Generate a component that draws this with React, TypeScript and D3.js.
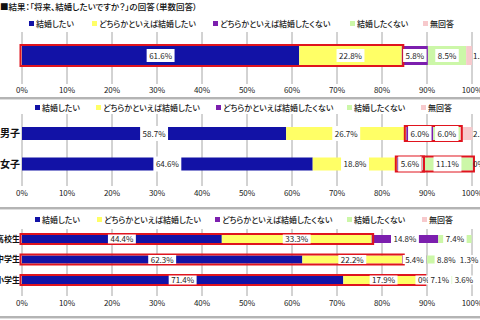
import React, { useEffect, useRef } from 'react';
import * as d3 from 'd3';

const titleText = '■結果：「将来、結婚したいですか？」の回答（単数回答）';
const seriesNames = [
    '結婚したい',
    'どちらかといえば結婚したい',
    'どちらかといえば結婚したくない',
    '結婚したくない',
    '無回答',
];
const seriesColors = ['#1212a6', '#ffff66', '#7c1fae', '#ccf7a8', '#f7c9cc'];
const tickValues = [0, 10, 20, 30, 40, 50, 60, 70, 80, 90, 100];

// panel 1: all
const totalCategories = [''];
const totalValues = [61.6, 22.8, 5.8, 8.5, 1.3];

// panel 2: by gender
const genderCategories = ['男子', '女子'];
const maleValues = [58.7, 26.7, 6.0, 6.0, 2.7];
const femaleValues = [64.6, 18.8, 5.6, 11.1, 0.0];

// panel 3: by school
const schoolCategories = ['高校生', '中学生', '小学生'];
const highSchoolValues = [44.4, 33.3, 14.8, 7.4, null];
const juniorHighValues = [62.3, 22.2, 5.4, 8.8, 1.3];
const elementaryValues = [71.4, 17.9, 0, 7.1, 3.6];

// red boxes: [first segment, last segment] per row
const totalHighlights = [[[0, 1]]];
const genderHighlights = [[[2, 3]], [[2, 2], [3, 3]]];
const schoolHighlights = [[[0, 1]], [[0, 1]], [[0, 1]]];

const jpFont = "'Noto Sans CJK JP', 'Noto Sans', sans-serif";

type Row = { cat: string; values: (number | null)[] };

const fmt = (v: number) => (v === 0 ? '0%' : `${v.toFixed(1)}%`);

export default function App() {
    const ref = useRef<SVGSVGElement | null>(null);

    useEffect(() => {
        const width = 480;
        const height = 320;
        const svg = d3.select(ref.current).attr('width', width).attr('height', height);
        svg.selectAll('*').remove();

        svg.append('rect').attr('width', width).attr('height', height).attr('fill', '#fff');

        const x = d3.scaleLinear().domain([0, 100]).range([22, 472]);

        svg.append('text')
            .attr('x', 0)
            .attr('y', 10)
            .style('font-family', jpFont)
            .style('font-size', '8.5px')
            .style('font-weight', 500)
            .style('font-feature-settings', "'palt'")
            .attr('fill', '#111')
            .text(titleText);

        const panels = [
            {
                cats: totalCategories,
                rows: [totalValues],
                highlights: totalHighlights,
                legendY: 24,
                legendX: [29, 92, 213, 350, 423],
                gridTop: 32,
                gridBottom: 84,
                tickY: 93,
                center: 55.5,
                step: 31,
                barH: 19,
                boxH: 13,
                catSize: 10,
                lastOutside: true,
                sepY: 97,
            },
            {
                cats: genderCategories,
                rows: [maleValues, femaleValues],
                highlights: genderHighlights,
                legendY: 108,
                legendX: [35, 96, 216, 347, 421],
                gridTop: 114,
                gridBottom: 186,
                tickY: 196,
                center: 133.5,
                step: 30.5,
                barH: 13,
                boxH: 15,
                catSize: 10,
                lastOutside: true,
                sepY: 207,
            },
            {
                cats: schoolCategories,
                rows: [highSchoolValues, juniorHighValues, elementaryValues],
                highlights: schoolHighlights,
                legendY: 220,
                legendX: [35, 97, 215, 347, 422],
                gridTop: 229,
                gridBottom: 296,
                tickY: 306,
                center: 239,
                step: 20.5,
                barH: 8,
                boxH: 9,
                catSize: 8,
                lastOutside: false,
                sepY: 316,
            },
        ];

        panels.forEach((p) => {
            const g = svg.append('g');
            const pad = 1 - p.barH / p.step;
            const y = d3
                .scaleBand()
                .domain(p.cats)
                .range([p.center - p.step / 2, p.center - p.step / 2 + p.cats.length * p.step])
                .paddingInner(pad)
                .paddingOuter(pad / 2);

            // legend
            seriesNames.forEach((name, i) => {
                g.append('rect')
                    .attr('x', p.legendX[i])
                    .attr('y', p.legendY - 3)
                    .attr('width', 5)
                    .attr('height', 5)
                    .attr('fill', seriesColors[i]);
                g.append('text')
                    .attr('x', p.legendX[i] + 7)
                    .attr('y', p.legendY + 2.5)
                    .style('font-family', jpFont)
                    .style('font-size', '8px')
                    .style('font-weight', 500)
                    .style('font-feature-settings', "'palt'")
                    .attr('fill', '#222')
                    .text(name);
            });

            // grid
            g.selectAll('.grid')
                .data(tickValues)
                .join('line')
                .attr('x1', (d) => x(d))
                .attr('x2', (d) => x(d))
                .attr('y1', p.gridTop)
                .attr('y2', p.gridBottom)
                .attr('stroke', '#a6a6a6')
                .attr('stroke-width', 1);

            g.selectAll('.tick')
                .data(tickValues)
                .join('text')
                .attr('x', (d) => x(d))
                .attr('y', p.tickY)
                .attr('text-anchor', 'middle')
                .style('font-family', jpFont)
                .style('font-size', '8px')
                .attr('fill', '#222')
                .text((d) => `${d}%`);

            const rows: Row[] = p.rows.map((values, i) => ({ cat: p.cats[i], values }));
            const stacked = d3
                .stack<Row, number>()
                .keys(d3.range(seriesNames.length))
                .value((d, k) => d.values[k] ?? 0)(rows);

            // category labels
            g.selectAll('.cat')
                .data(rows)
                .join('text')
                .attr('x', 20)
                .attr('y', (d) => y(d.cat)! + p.barH / 2 + p.catSize * 0.35)
                .attr('text-anchor', 'end')
                .style('font-family', jpFont)
                .style('font-size', `${p.catSize}px`)
                .style('font-weight', 'bold')
                .attr('fill', '#111')
                .text((d) => d.cat);

            // bars
            stacked.forEach((layer, k) => {
                g.append('g')
                    .selectAll('rect')
                    .data(layer.filter((d) => d[1] - d[0] > 0))
                    .join('rect')
                    .attr('x', (d) => x(d[0]))
                    .attr('y', (d) => y(d.data.cat)!)
                    .attr('width', (d) => x(d[1]) - x(d[0]))
                    .attr('height', y.bandwidth())
                    .attr('fill', seriesColors[k]);
            });

            // red boxes
            rows.forEach((row, ri) => {
                p.highlights[ri].forEach(([a, b]) => {
                    const x0 = x(stacked[a][ri][0]);
                    const x1 = x(stacked[b][ri][1]);
                    g.append('rect')
                        .attr('x', x0 - 1.5)
                        .attr('y', y(row.cat)! - 1)
                        .attr('width', x1 - x0 + 3)
                        .attr('height', y.bandwidth() + 2)
                        .attr('fill', 'none')
                        .attr('stroke', '#e0141e')
                        .attr('stroke-width', 2);
                });
            });

            // data labels
            stacked.forEach((layer, k) => {
                layer.forEach((d, ri) => {
                    const v = rows[ri].values[k];
                    if (v === null || v === undefined) return;
                    const outside = p.lastOutside && k === seriesNames.length - 1;
                    const cx = outside ? x(100) + 1 : (x(d[0]) + x(d[1])) / 2;
                    const cy = y(d.data.cat)! + y.bandwidth() / 2;
                    const lg = g.append('g');
                    const box = lg.append('rect').attr('fill', '#fff');
                    const t = lg
                        .append('text')
                        .attr('x', cx)
                        .attr('y', cy + 3)
                        .attr('text-anchor', outside ? 'start' : 'middle')
                        .style('font-family', jpFont)
                        .style('font-size', '8px')
                        .attr('fill', '#222')
                        .text(fmt(v));
                    const w = (t.node() as SVGTextElement).getComputedTextLength() + 5;
                    if (!outside) {
                        box.attr('x', cx - w / 2)
                            .attr('y', cy - p.boxH / 2)
                            .attr('width', w)
                            .attr('height', p.boxH);
                    }
                });
            });

            // separator band
            g.append('rect')
                .attr('x', 0)
                .attr('y', p.sepY)
                .attr('width', width)
                .attr('height', 2)
                .attr('fill', '#b4b4b4');
            g.append('rect')
                .attr('x', 0)
                .attr('y', p.sepY + 2)
                .attr('width', width)
                .attr('height', 1)
                .attr('fill', '#dedede');
        });
    }, []);

    return <svg ref={ref} style={{ position: 'absolute', left: 0, top: 0 }}></svg>;
}
